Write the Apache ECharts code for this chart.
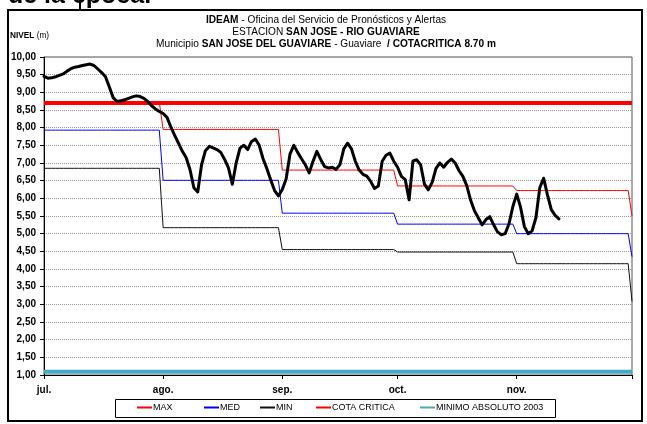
<!DOCTYPE html>
<html><head><meta charset="utf-8">
<script src="https://cdn.jsdelivr.net/npm/echarts@6/dist/echarts.min.js"></script>
<style>html,body{margin:0;padding:0;background:#fff}#c{width:647px;height:424px}</style>
</head><body><div id="c"></div><script>
// Months on the axis (Jul 1 .. Dec 1) and their lengths in days
const monthNames = ['jul.', 'ago.', 'sep.', 'oct.', 'nov.', 'dic.'];
const monthDays = [31, 31, 30, 31, 30, 1];

// Historical monthly reference levels (m)
const maxByMonth = [8.72, 7.95, 6.80, 6.35, 6.22, 5.50];
const medByMonth = [7.93, 6.51, 5.58, 5.27, 5.00, 4.35];
const minByMonth = [6.85, 5.17, 4.55, 4.48, 4.15, 3.08];

// Fixed thresholds (m)
const cotaCritica = 8.70;
const minimoAbsoluto2003 = 1.09;

// Daily observed level (m) from Jul 1
const nivel = [
  9.45, 9.40, 9.41, 9.44, 9.48, 9.52, 9.60, 9.67, 9.71, 9.73,
  9.76, 9.78, 9.80, 9.76, 9.66, 9.56, 9.44, 9.15, 8.85, 8.74,
  8.76, 8.79, 8.83, 8.87, 8.90, 8.88, 8.83, 8.74, 8.62, 8.53,
  8.46, 8.40, 8.29, 8.02, 7.78, 7.56, 7.33, 7.15, 6.81, 6.30,
  6.18, 6.95, 7.35, 7.47, 7.43, 7.38, 7.30, 7.10, 6.86, 6.40,
  7.00, 7.42, 7.50, 7.38, 7.61, 7.68, 7.50, 7.12, 6.84, 6.52,
  6.22, 6.07, 6.25, 6.55, 7.25, 7.50, 7.30, 7.12, 6.95, 6.72,
  7.05, 7.33, 7.10, 6.90, 6.86, 6.88, 6.82, 6.95, 7.40, 7.56,
  7.40, 7.05, 6.80, 6.68, 6.63, 6.48, 6.28, 6.35, 7.05, 7.22,
  7.28, 7.05, 6.88, 6.62, 6.53, 5.96, 7.06, 7.09, 6.95, 6.40,
  6.24, 6.45, 6.85, 7.00, 6.88, 7.02, 7.11, 7.00, 6.78, 6.62,
  6.36, 5.95, 5.65, 5.45, 5.25, 5.40, 5.48, 5.25, 5.05, 4.97,
  5.00, 5.28, 5.77, 6.12, 5.75, 5.20, 5.00, 5.08, 5.45, 6.30,
  6.57, 6.10, 5.68, 5.52, 5.42
];

// Y axis range (m)
const yMin = 1, yMax = 10, yStep = 0.5;

// Legend entries and where each one sits along the legend box
const legendNames = ['MAX', 'MED', 'MIN', 'COTA CRITICA', 'MINIMO ABSOLUTO 2003'];
const legendLeft = [136, 203, 259, 315, 419];

// Build the daily category list and the step-wise monthly reference series
const days = [];
const maxDaily = [], medDaily = [], minDaily = [];
monthNames.forEach((m, i) => {
  for (let d = 1; d <= monthDays[i]; d++) {
    days.push(m + ' ' + d);
    maxDaily.push(maxByMonth[i]);
    medDaily.push(medByMonth[i]);
    minDaily.push(minByMonth[i]);
  }
});
const isMonthStart = (v) => / 1$/.test(v);

const sans = "'Liberation Sans', Arial, sans-serif";

const legends = legendNames.map((name, i) => ({
  data: [name],
  left: legendLeft[i], top: 403,
  padding: 0, itemWidth: 15, itemHeight: 8,
  itemStyle: { opacity: 0 },
  textStyle: { color: '#000', fontFamily: sans, fontSize: 9, padding: [0, 0, 0, -4] },
  selectedMode: false
}));

const chart = echarts.init(document.getElementById('c'), null, { renderer: 'canvas' });
chart.setOption({
  animation: false,
  backgroundColor: '#fff',
  grid: { left: 44, right: 15, top: 57, bottom: 49, show: true, borderColor: '#555', borderWidth: 1, backgroundColor: 'transparent' },
  xAxis: {
    type: 'category',
    data: days,
    boundaryGap: false,
    axisLine: { lineStyle: { color: '#000', width: 1 } },
    axisTick: { show: true, length: 4, inside: false, lineStyle: { color: '#000' }, interval: (i, v) => isMonthStart(v) },
    axisLabel: {
      interval: (i, v) => isMonthStart(v) && v.indexOf('dic.') !== 0,
      formatter: (v) => v.split(' ')[0],
      color: '#000', fontFamily: sans, fontWeight: 'bold', fontSize: 10, margin: 10
    },
    splitLine: { show: false }
  },
  yAxis: {
    type: 'value',
    min: yMin, max: yMax, interval: yStep,
    axisLine: { show: true, lineStyle: { color: '#000', width: 1 } },
    axisTick: { show: true, length: 4, lineStyle: { color: '#000' } },
    axisLabel: {
      formatter: (v) => v.toFixed(2).replace('.', ','),
      color: '#000', fontFamily: sans, fontWeight: 'bold', fontSize: 10, margin: 8
    },
    splitLine: { show: true, lineStyle: { color: '#999', type: [1, 1], width: 1 } }
  },
  legend: legends,
  series: [
    { name: 'MAX', type: 'line', data: maxDaily, symbol: 'none', lineStyle: { color: '#ff0000', width: 1 }, itemStyle: { color: '#ff0000' }, z: 2 },
    { name: 'MED', type: 'line', data: medDaily, symbol: 'none', lineStyle: { color: '#0000ff', width: 1 }, itemStyle: { color: '#0000ff' }, z: 2 },
    { name: 'MIN', type: 'line', data: minDaily, symbol: 'none', lineStyle: { color: '#111', width: 1 }, itemStyle: { color: '#111' }, z: 2 },
    { name: 'COTA CRITICA', type: 'line', data: days.map(() => cotaCritica), symbol: 'none', lineStyle: { color: '#ff0000', width: 4 }, itemStyle: { color: '#ff0000' }, z: 3 },
    { name: 'MINIMO ABSOLUTO 2003', type: 'line', data: days.map(() => minimoAbsoluto2003), symbol: 'none', lineStyle: { color: '#46a9c4', width: 4 }, itemStyle: { color: '#46a9c4' }, z: 3 },
    { name: 'NIVEL', type: 'line', data: nivel, symbol: 'none', lineStyle: { color: '#000', width: 3, cap: 'round', join: 'round' }, z: 4 }
  ],
  graphic: [
    { type: 'text', silent: true, x: 8, y: -4, style: { text: 'de la época.', font: "bold 25px " + sans, fill: '#000', verticalAlign: 'middle' } },
    { type: 'line', silent: true, shape: { x1: 80, y1: 0, x2: 80, y2: 10 }, style: { stroke: '#000', lineWidth: 2 } },
    { type: 'rect', silent: true, shape: { x: 8, y: 10, width: 634, height: 411 }, style: { fill: 'none', stroke: '#000', lineWidth: 2 } },
    { type: 'rect', silent: true, shape: { x: 115.5, y: 399.5, width: 440, height: 18 }, style: { fill: 'none', stroke: '#000', lineWidth: 1 } },
    { type: 'text', silent: true, x: 326, y: 20, scaleX: 0.92, style: {
        text: '{b|IDEAM} - Oficina del Servicio de Pronósticos y Alertas', align: 'center', verticalAlign: 'middle',
        font: '11px ' + sans, fill: '#000', rich: { b: { fontWeight: 'bold', fontFamily: sans, fontSize: 11 } } } },
    { type: 'text', silent: true, x: 326, y: 32, scaleX: 0.92, style: {
        text: 'ESTACION {b|SAN JOSE - RIO GUAVIARE}', align: 'center', verticalAlign: 'middle',
        font: '11px ' + sans, fill: '#000', rich: { b: { fontWeight: 'bold', fontFamily: sans, fontSize: 11 } } } },
    { type: 'text', silent: true, x: 326, y: 44, scaleX: 0.92, style: {
        text: 'Municipio {b|SAN JOSE DEL GUAVIARE} - Guaviare  {r|/ COTACRITICA 8.70 m}', align: 'center', verticalAlign: 'middle',
        font: '11px ' + sans, fill: '#000', rich: {
          b: { fontWeight: 'bold', fontFamily: sans, fontSize: 11 },
          r: { fontWeight: 'bold', fontFamily: sans, fontSize: 11, color: '#ff0000' } } } },
    { type: 'text', silent: true, x: 10, y: 36, scaleX: 0.92, style: {
        text: '{b|NIVEL} (m)', verticalAlign: 'middle', font: '9px ' + sans, fill: '#000',
        rich: { b: { fontWeight: 'bold', fontFamily: sans, fontSize: 9 } } } }
  ]
});
</script></body></html>
